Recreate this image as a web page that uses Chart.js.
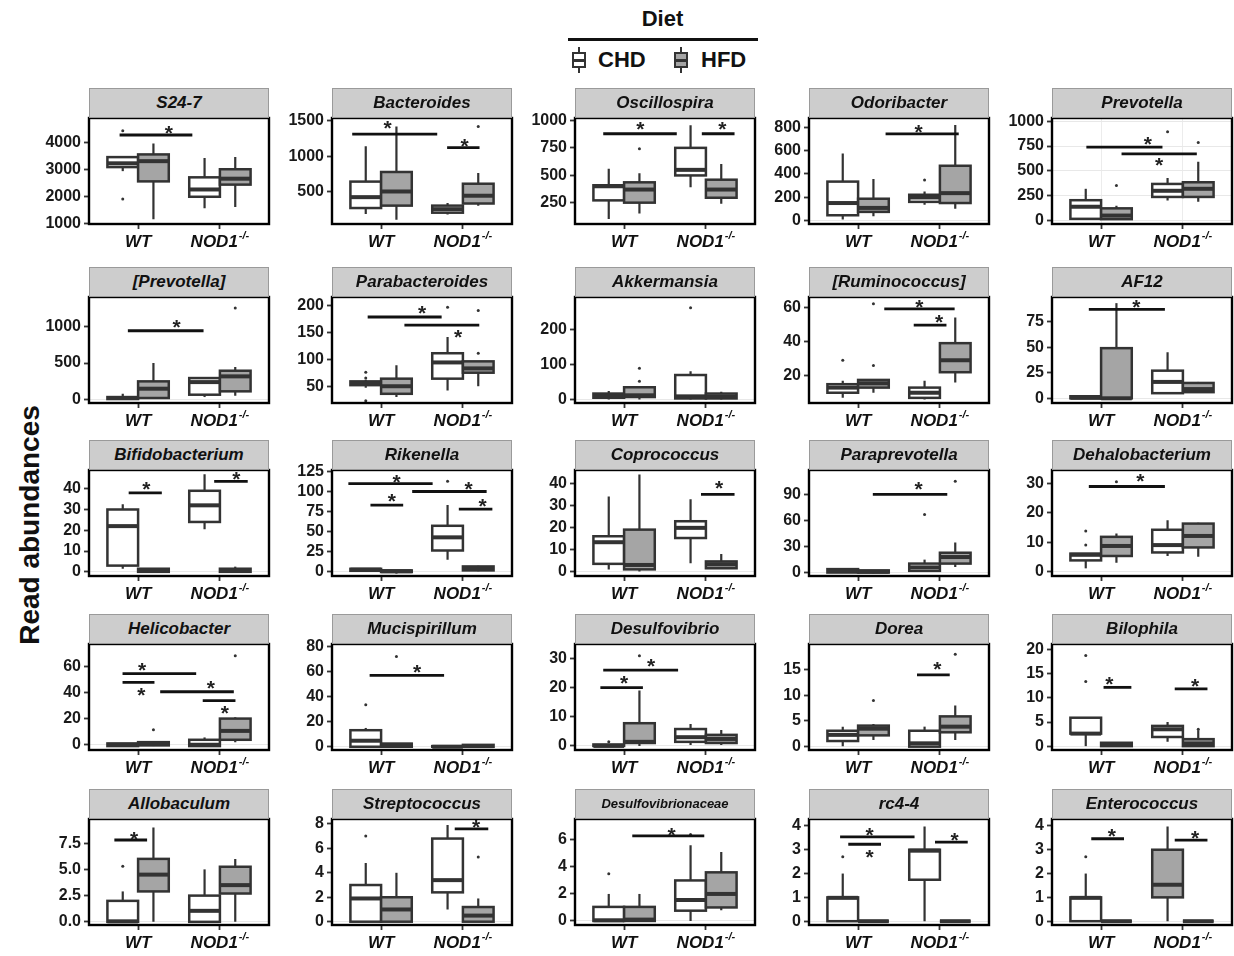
<!DOCTYPE html>
<html>
<head>
<meta charset="utf-8">
<script src="https://cdn.jsdelivr.net/npm/chart.js@4.4.0/dist/chart.umd.min.js"></script>
<style>
body { margin: 0; background: #fff; width: 1234px; height: 956px; position: relative; overflow: hidden; font-family: "Liberation Sans", Arial, sans-serif; }
.strip { position: absolute; height: 30px; background: #cdcdcd; border: 1px solid #9a9a9a; box-sizing: border-box; text-align: center; font: italic bold 17px "Liberation Sans", Arial, sans-serif; line-height: 28px; color: #111; z-index: 2; }
canvas { position: absolute; z-index: 1; }
#ytitle { position: absolute; left: -120px; top: 510px; width: 300px; text-align: center; font: bold 28px "Liberation Sans", Arial, sans-serif; line-height: 30px; transform: rotate(-90deg); color: #111; }
#diet { position: absolute; left: 560px; top: 6px; width: 205px; text-align: center; font: bold 22px "Liberation Sans", Arial, sans-serif; color: #111; }
#dietline { position: absolute; left: 568px; top: 38px; width: 190px; height: 3px; background: #111; }
.key { position: absolute; top: 47px; width: 14px; height: 26px; }
.key .wh { position: absolute; left: 6px; top: 0; width: 2px; height: 26px; background: #333; }
.key .bx { position: absolute; left: 0; top: 5px; width: 10px; height: 12px; border: 2px solid #333; }
.key .md { position: absolute; left: 0; top: 12px; width: 14px; height: 3px; background: #333; }
.keytxt { position: absolute; top: 47px; font: bold 22px "Liberation Sans", Arial, sans-serif; color: #111; }
</style>
</head>
<body>
<div id="diet">Diet</div>
<div id="dietline"></div>
<div class="key" style="left:572px"><div class="wh"></div><div class="bx" style="background:#fff"></div><div class="md"></div></div>
<div class="keytxt" style="left:598px">CHD</div>
<div class="key" style="left:674px"><div class="wh"></div><div class="bx" style="background:#a5a5a5"></div><div class="md"></div></div>
<div class="keytxt" style="left:701px">HFD</div>
<div id="ytitle">Read abundances</div>

<script>
// panel titles (facets)
var taxa = ['S24-7', 'Bacteroides', 'Oscillospira', 'Odoribacter', 'Prevotella',
            '[Prevotella]', 'Parabacteroides', 'Akkermansia', '[Ruminococcus]', 'AF12',
            'Bifidobacterium', 'Rikenella', 'Coprococcus', 'Paraprevotella', 'Dehalobacterium',
            'Helicobacter', 'Mucispirillum', 'Desulfovibrio', 'Dorea', 'Bilophila',
            'Allobaculum', 'Streptococcus', 'Desulfovibrionaceae', 'rc4-4', 'Enterococcus'];
var genotypes = ['WT', 'NOD1'];
var diets = ['CHD', 'HFD'];

// box stats per panel: WT-CHD, WT-HFD, NOD1-CHD, NOD1-HFD -> [low, q1, median, q3, high]
var boxStats = [
  [[2930, 3080, 3220, 3450, 3450], [1150, 2550, 3300, 3550, 3950], [1550, 1980, 2250, 2700, 3420], [1600, 2430, 2650, 3000, 3450]],
  [[180, 266, 420, 640, 1140], [100, 300, 500, 776, 1420], [175, 200, 250, 300, 337], [300, 330, 440, 610, 760]],
  [[100, 271, 400, 409, 559], [150, 250, 370, 436, 520], [391, 499, 550, 751, 958], [241, 295, 370, 460, 604]],
  [[8, 45, 150, 334, 575], [37, 74, 108, 187, 357], [136, 160, 198, 221, 250], [100, 150, 235, 470, 820]],
  [[16, 16, 138, 204, 319], [13, 13, 49, 122, 148], [200, 237, 299, 368, 428], [188, 237, 319, 385, 592]],
  [[0, 9, 23, 36, 82], [9, 23, 150, 250, 500], [36, 68, 240, 295, 295], [54, 114, 318, 395, 445]],
  [[47, 52, 55, 59, 62], [30, 36, 50, 64, 89], [42, 64, 94, 111, 141], [50, 75, 83, 96, 96]],
  [[0, 5, 10, 17, 24], [0, 7, 12, 35, 35], [0, 3, 9, 70, 81], [0, 3, 8, 17, 22]],
  [[7, 10, 13, 15, 17], [10, 13, 15.5, 17.5, 17.5], [6, 7, 10, 13, 17], [16, 22, 29, 39, 54]],
  [[0, 0, 0.5, 2, 2], [0, 0, 0, 49, 93], [5, 5, 16, 27, 45], [6, 6, 9, 15, 16]],
  [[1.5, 3, 22, 30, 32.5], [0, 0, 0.5, 1.5, 1.5], [20.5, 24, 32, 39, 47], [0, 0, 0.5, 1.5, 2.5]],
  [[0, 0.5, 2, 3, 3], [-3, -1, 0, 1, 1], [14.5, 26, 42.5, 57, 83], [0, 1, 3, 6, 7]],
  [[1, 3.5, 13.3, 16, 34], [0, 1, 3, 19, 44], [3.8, 15.2, 19.8, 22.8, 32.7], [1.2, 1.5, 3.3, 4.6, 8]],
  [[0, 0, 2, 4, 5], [-1, 0, 1, 2.5, 2.5], [2, 2, 6, 10.4, 15], [6.5, 10.4, 18, 23, 35]],
  [[1.1, 3.8, 5.7, 6.1, 6.1], [3, 5.3, 8.7, 11.8, 12.9], [5.3, 6.5, 9, 14.2, 17.4], [5, 8.2, 12.1, 16.3, 16.6]],
  [[-1, -1, 0, 1, 1], [-1, -0.5, 1.3, 2, 2], [-1, -1, 0, 3.8, 5.6], [2, 3.8, 10.6, 20, 21]],
  [[0, 0, 4.8, 13.2, 15], [0, 0, 1.5, 2.5, 2.5], [0, 0, 0, 0.5, 0.5], [-0.5, 0, 0.5, 1.5, 1.5]],
  [[0, 0, 0, 0.5, 0.5], [0, 1, 1.4, 7.8, 19], [0.3, 1.4, 3, 5.8, 7.5], [0.3, 1, 2.4, 3.8, 5.5]],
  [[0.1, 1.1, 2.3, 3.1, 3.9], [1.3, 2.2, 3.5, 4.1, 4.4], [0, 0, 0.65, 3.1, 3.9], [1.3, 2.8, 3.9, 5.9, 8]],
  [[0, 2.6, 2.6, 5.9, 5.9], [0, 0, 0.3, 0.7, 0.7], [0.9, 1.9, 3.5, 4.2, 5], [0, 0, 0.55, 1.45, 3.3]],
  [[0, 0, 0.05, 2, 2.9], [0, 2.9, 4.5, 6, 9], [0, 0, 1.05, 2.5, 5], [0, 2.7, 3.5, 5.25, 6]],
  [[0, 0, 1.9, 3, 4.8], [0, 0, 1, 2, 4], [1, 2.4, 3.4, 6.8, 7.9], [0, 0, 0.5, 1.2, 1.9]],
  [[0, 0, 0.05, 1.04, 2], [0, 0, 0.1, 1.04, 2], [0, 0.76, 1.55, 3.0, 5.6], [0.8, 1.0, 2.0, 3.6, 5.1]],
  [[0, 0, 0.98, 1, 2], [0, 0, 0, 0, 0], [0, 1.74, 2.96, 3, 3.97], [0, 0, 0, 0, 0]],
  [[0, 0, 0.98, 1, 2], [0, 0, 0, 0, 0], [0, 1, 1.53, 3, 3.97], [0, 0, 0, 0, 0]]
];

// outlying points per panel and box
var outliers = [
  [[1900, 4430], [], [], []],
  [[], [], [], [1420]],
  [[], [743], [], []],
  [[], [], [348], []],
  [[], [352], [895], [786]],
  [[], [], [], [1250]],
  [[76, 65, 23], [], [196], [111, 190]],
  [[], [52, 89], [262], []],
  [[29], [26, 62], [], []],
  [[], [], [], []],
  [[], [], [], []],
  [[], [], [113], []],
  [[], [], [], []],
  [[], [], [67.5], [106]],
  [[9, 13.8], [30.5], [], []],
  [[], [11.4], [], [68]],
  [[33.6], [72], [], []],
  [[1.4], [31], [], []],
  [[], [9], [], [18]],
  [[13.4, 18.8], [], [], [3.5]],
  [[5.3], [], [], []],
  [[7.0], [], [], [5.3]],
  [[3.5], [], [6.4], []],
  [[2.7], [], [], []],
  [[2.7], [], [], []]
];

// y axis range and ticks per panel
var yRange = [[970, 4900], [40, 1540], [55, 1024], [-30, 880], [-36, 1033],
              [-45, 1400], [19, 215], [-10, 293], [4, 66], [-4.6, 99],
              [-2, 49], [-6, 127], [-2, 46], [-4, 119], [-1.5, 34.5],
              [-4, 77], [-2.6, 82], [-1.4, 35], [-0.65, 20], [-0.8, 21.2],
              [-0.3, 9.8], [-0.27, 8.4], [-0.3, 7.55], [-0.16, 4.29], [-0.16, 4.29]];
var yTicks = [[1000, 2000, 3000, 4000], [500, 1000, 1500], [250, 500, 750, 1000], [0, 200, 400, 600, 800], [0, 250, 500, 750, 1000],
              [0, 500, 1000], [50, 100, 150, 200], [0, 100, 200], [20, 40, 60], [0, 25, 50, 75],
              [0, 10, 20, 30, 40], [0, 25, 50, 75, 100, 125], [0, 10, 20, 30, 40], [0, 30, 60, 90], [0, 10, 20, 30],
              [0, 20, 40, 60], [0, 20, 40, 60, 80], [0, 10, 20, 30], [0, 5, 10, 15], [0, 5, 10, 15, 20],
              [0, 2.5, 5, 7.5], [0, 2, 4, 6, 8], [0, 2, 4, 6], [0, 1, 2, 3, 4], [0, 1, 2, 3, 4]];
var yDigits = [0, 0, 0, 0, 0, 0, 0, 0, 0, 0, 0, 0, 0, 0, 0, 0, 0, 0, 0, 0, 1, 0, 0, 0, 0];

// significance bars: [x from, x to, bar y, star x, star y]
var sigBars = [
  [[0.774, 1.663, 4270, 1.375, 4440]],
  [[0.647, 1.686, 1313, 1.08, 1440], [1.807, 2.203, 1120, 2.02, 1190]],
  [[0.745, 1.644, 880, 1.2, 945], [1.95, 2.35, 880, 2.2, 945]],
  [[1.336, 2.23, 744, 1.74, 785]],
  [[0.82, 1.75, 740, 1.57, 800], [1.25, 2.17, 671, 1.71, 590]],
  [[0.875, 1.8, 940, 1.47, 1030]],
  [[0.836, 1.74, 178, 1.5, 191], [1.285, 2.2, 163, 1.94, 146]],
  [],
  [[1.32, 2.18, 59, 1.75, 62], [1.68, 2.08, 49.5, 1.99, 53]],
  [[0.85, 1.78, 87, 1.43, 92]],
  [[0.885, 1.29, 38, 1.1, 41], [1.93, 2.34, 43.5, 2.2, 46]],
  [[0.6, 1.63, 110, 1.19, 116], [0.87, 1.27, 83, 1.13, 91], [1.38, 2.29, 100, 2.07, 107], [1.95, 2.36, 78, 2.24, 85]],
  [[1.94, 2.35, 35, 2.16, 39]],
  [[1.18, 2.09, 90.7, 1.74, 100]],
  [[0.85, 1.78, 28.9, 1.48, 31.7]],
  [[0.81, 1.71, 54.4, 1.05, 59.5], [0.81, 1.2, 47.6, 1.04, 40.5], [1.27, 2.17, 40.5, 1.89, 45.6], [1.79, 2.19, 33.7, 2.06, 26.6]],
  [[0.86, 1.77, 57, 1.44, 62]],
  [[0.71, 1.23, 20, 1.0, 22.5], [0.745, 1.66, 26, 1.33, 28.5]],
  [[1.72, 2.12, 14, 1.97, 15.7]],
  [[1.03, 1.37, 12.2, 1.1, 13.4], [1.9, 2.3, 11.9, 2.15, 13]],
  [[0.71, 1.11, 7.8, 0.95, 8.2]],
  [[1.9, 2.31, 7.6, 2.16, 7.95]],
  [[1.1, 1.98, 6.3, 1.58, 6.6]],
  [[0.78, 1.69, 3.54, 1.14, 3.72], [0.88, 1.28, 3.23, 1.14, 2.82], [1.94, 2.34, 3.32, 2.18, 3.52]],
  [[0.88, 1.28, 3.46, 1.13, 3.68], [1.9, 2.3, 3.4, 2.15, 3.63]]
];

// boxes drawn grey although CHD: [panel, box]
var greyOverride = [[24, 2]];

var dietFill = ['#ffffff', '#a5a5a5'];
var dodge = [-0.1875, 0.1875];
var boxHalf = 0.1875;

var colLeft = [89, 332, 575, 809, 1052];
var rowTop = [88, 267, 440, 614, 789];
var panelW = 180, stripH = 30, plotH = 106, yAxisW = 56, xAxisH = 30;

function boxX(i) { return Math.floor(i / 2) + 1 + dodge[i % 2]; }

var boxPlugin = {
  id: 'boxes',
  beforeDatasetsDraw: function (chart) {
    var p = chart.options.plugins.boxes.panel;
    var x = chart.scales.x, y = chart.scales.y, ctx = chart.ctx;
    ctx.save();
    ctx.strokeStyle = '#333';
    boxStats[p].forEach(function (s, i) {
      var cx = boxX(i);
      var l = x.getPixelForValue(cx - boxHalf), r = x.getPixelForValue(cx + boxHalf), m = x.getPixelForValue(cx);
      var top = y.getPixelForValue(s[3]), bot = y.getPixelForValue(s[1]);
      ctx.lineWidth = 2.2;
      ctx.beginPath();
      ctx.moveTo(m, top); ctx.lineTo(m, y.getPixelForValue(s[4]));
      ctx.moveTo(m, bot); ctx.lineTo(m, y.getPixelForValue(s[0]));
      ctx.stroke();
      var fill = dietFill[i % 2];
      greyOverride.forEach(function (g) { if (g[0] === p && g[1] === i) fill = dietFill[1]; });
      ctx.fillStyle = fill;
      ctx.fillRect(l, top, r - l, bot - top);
      ctx.lineWidth = 2.5;
      ctx.strokeRect(l, top, r - l, bot - top);
      var ym = y.getPixelForValue(s[2]);
      ctx.lineWidth = 4;
      ctx.beginPath(); ctx.moveTo(l, ym); ctx.lineTo(r, ym); ctx.stroke();
    });
    ctx.restore();
  },
  afterDatasetsDraw: function (chart) {
    var p = chart.options.plugins.boxes.panel;
    var x = chart.scales.x, y = chart.scales.y, ctx = chart.ctx;
    ctx.save();
    ctx.strokeStyle = '#111';
    ctx.fillStyle = '#222';
    ctx.lineWidth = 2.8;
    ctx.font = 'bold 21px "Liberation Sans", Arial, sans-serif';
    ctx.textAlign = 'center';
    ctx.textBaseline = 'middle';
    sigBars[p].forEach(function (b) {
      var yy = y.getPixelForValue(b[2]);
      ctx.beginPath(); ctx.moveTo(x.getPixelForValue(b[0]), yy); ctx.lineTo(x.getPixelForValue(b[1]), yy); ctx.stroke();
      ctx.fillText('*', x.getPixelForValue(b[3]), y.getPixelForValue(b[4]) + 4);
    });
    ctx.restore();
  },
  afterDraw: function (chart) {
    var x = chart.scales.x, a = chart.chartArea, ctx = chart.ctx;
    ctx.save();
    ctx.strokeStyle = '#000';
    ctx.lineWidth = 2.4;
    ctx.strokeRect(a.left, a.top, a.right - a.left, a.bottom - a.top);
    ctx.fillStyle = '#111';
    ctx.textBaseline = 'middle';
    var ly = a.bottom + 18;
    ctx.font = 'italic bold 17px "Liberation Sans", Arial, sans-serif';
    ctx.textAlign = 'center';
    ctx.fillText(genotypes[0], x.getPixelForValue(1), ly);
    var w1 = ctx.measureText(genotypes[1]).width;
    ctx.font = 'italic bold 11px "Liberation Sans", Arial, sans-serif';
    var w2 = ctx.measureText('-/-').width;
    var start = x.getPixelForValue(2) - (w1 + w2 + 1) / 2;
    ctx.textAlign = 'left';
    ctx.font = 'italic bold 17px "Liberation Sans", Arial, sans-serif';
    ctx.fillText(genotypes[1], start, ly);
    ctx.font = 'italic bold 11px "Liberation Sans", Arial, sans-serif';
    ctx.fillText('-/-', start + w1 + 1, ly - 6);
    ctx.restore();
  }
};

taxa.forEach(function (name, p) {
  var col = p % 5, row = Math.floor(p / 5);
  var strip = document.createElement('div');
  strip.className = 'strip';
  strip.style.left = colLeft[col] + 'px';
  strip.style.top = rowTop[row] + 'px';
  strip.style.width = panelW + 'px';
  if (name.length > 16) strip.style.fontSize = '13px';
  strip.textContent = name;
  document.body.appendChild(strip);

  var cv = document.createElement('canvas');
  cv.width = yAxisW + panelW + 3;
  cv.height = stripH + plotH + xAxisH;
  cv.style.left = (colLeft[col] - yAxisW) + 'px';
  cv.style.top = rowTop[row] + 'px';
  document.body.appendChild(cv);

  var pts = [];
  outliers[p].forEach(function (list, i) {
    list.forEach(function (v) { pts.push({ x: boxX(i), y: v }); });
  });

  new Chart(cv, {
    type: 'scatter',
    data: { datasets: [{ data: pts, pointRadius: 1.5, pointHoverRadius: 0, backgroundColor: '#333', borderWidth: 0 }] },
    options: {
      responsive: false,
      animation: false,
      devicePixelRatio: 1,
      layout: { padding: { top: stripH, right: 3, left: 0, bottom: 0 } },
      plugins: { legend: { display: false }, tooltip: { enabled: false }, boxes: { panel: p } },
      scales: {
        x: {
          type: 'linear', min: 0.4, max: 2.6,
          afterBuildTicks: function (s) { s.ticks = [{ value: 1 }, { value: 2 }]; },
          ticks: { display: false },
          grid: { drawOnChartArea: p === 4, color: '#ececec', tickLength: 5, tickColor: '#333', tickWidth: 1.8 },
          border: { display: false },
          afterFit: function (s) { s.height = xAxisH; s.paddingLeft = 0; s.paddingRight = 0; }
        },
        y: {
          min: yRange[p][0], max: yRange[p][1],
          afterBuildTicks: function (s) { s.ticks = yTicks[p].map(function (v) { return { value: v }; }); },
          ticks: {
            color: '#1a1a1a', padding: 3, autoSkip: false,
            font: { family: '"Liberation Sans", Arial, sans-serif', size: 16, weight: 'bold' },
            callback: function (v) { return v.toFixed(yDigits[p]); }
          },
          grid: {
            color: function (c) { return (p === 4 || c.tick.value === 0) ? '#e8e8e8' : 'rgba(0,0,0,0)'; },
            tickLength: 5, tickColor: '#333', tickWidth: 1.8
          },
          border: { display: false },
          afterFit: function (s) { s.width = yAxisW; s.paddingTop = 0; s.paddingBottom = 0; }
        }
      }
    },
    plugins: [boxPlugin]
  });
});
</script>
</body>
</html>
